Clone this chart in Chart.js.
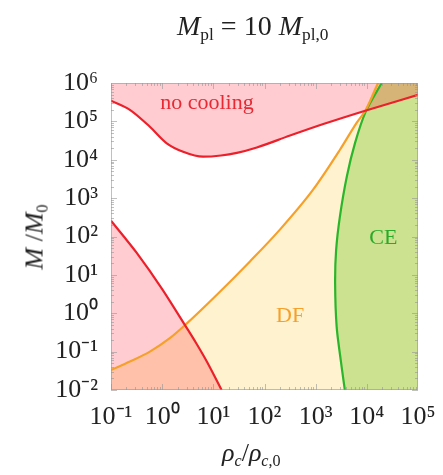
<!DOCTYPE html>
<html>
<head>
<meta charset="utf-8">
<script src="https://cdn.jsdelivr.net/npm/chart.js@4"></script>
<style>
  body { margin: 0; background: #fff; }
  #wrap { position: relative; width: 443px; height: 475px; font-family: "Liberation Serif", "Times New Roman", serif; color: #222; }
  #chart { position: absolute; left: 0; top: 0; }
  .lbl { position: absolute; white-space: nowrap; line-height: 1; }
  #title { left: 177px; top: 12px; font-size: 28px; }
  #xtitle { left: 222px; top: 440px; font-size: 26px; }
  #ytitle { left: 36px; top: 237px; font-size: 26px; transform: translate(-50%, -50%) rotate(-90deg); }
  sub { font-size: 0.62em; vertical-align: -0.3em; font-style: normal; }
</style>
</head>
<body>
<div id="wrap">
  <canvas id="chart" width="443" height="475"></canvas>
  <div class="lbl" id="title"><i>M</i><sub>pl</sub> = 10 <i>M</i><sub>pl,0</sub></div>
  <div class="lbl" id="ytitle"><i>M</i> /<i>M</i><sub>0</sub></div>
  <div class="lbl" id="xtitle"><i>ρ</i><sub><i>c</i></sub>/<i>ρ</i><sub><i>c</i>,0</sub></div>
</div>
<script>
// axis ranges and ticks
const xMin = 0.1, xMax = 1e5;
const yMin = 0.01, yMax = 1e6;
const xTicks = [0.1, 1, 10, 100, 1e3, 1e4, 1e5];
const yTicks = [0.01, 0.1, 1, 10, 100, 1e3, 1e4, 1e5, 1e6];

// "no cooling" boundary (upper red)
const noCoolX = [0.1, 0.234, 0.575, 1.23, 2.57, 6.31, 14.1, 28.8, 70.8, 316, 1413, 1.0e4, 1e5];
const noCoolY = [3.47e5, 2.0e5, 7.24e4, 2.69e4, 1.62e4, 1.20e4, 1.29e4, 1.51e4, 2.09e4, 4.27e4, 8.51e4, 1.95e5, 4.9e5];

// lower red boundary
const coolX = [0.1, 0.178, 0.316, 1.0, 2.79, 4.57, 7.41, 14.5];
const coolY = [257, 100, 38, 4.27, 0.49, 0.17, 0.056, 0.01];

// dynamical friction boundary (orange)
const dfX = [0.1, 0.234, 0.575, 1.41, 2.79, 11.6, 52.0, 200, 891, 2985, 6310, 9550, 16600];
const dfY = [0.0331, 0.055, 0.1, 0.224, 0.49, 2.99, 22.4, 151, 1660, 1.82e4, 9.12e4, 2.0e5, 1e6];

// common envelope boundary (green)
const ceX = [3715, 3090, 2570, 2400, 2512, 2985, 4074, 5888, 9550, 19500];
const ceY = [0.01, 0.06, 0.447, 6.03, 44.7, 339, 3715, 2.75e4, 1.82e5, 1e6];

const RED = 'rgb(236,32,42)';
const ORANGE = 'rgb(246,160,42)';
const GREEN = 'rgb(42,182,42)';

function pts(xs, ys) {
    return xs.map((x, i) => ({ x: x, y: ys[i] }));
}

const noCool = pts(noCoolX, noCoolY);
const cool = pts(coolX, coolY);
const df = pts(dfX, dfY);
const ce = pts(ceX, ceY);

// fill outlines, closed along the plot edges
const dfLast = df[df.length - 1];
const dfShape = df.concat([dfLast, { x: xMax, y: yMax }]);
const ceLast = ce[ce.length - 1];
const ceShape = ce.concat([ceLast, { x: xMax, y: yMax }, { x: xMax, y: yMin }]);

const sup = { '-': '⁻', '0': '⁰', '1': '¹', '2': '²', '3': '³', '4': '⁴', '5': '⁵', '6': '⁶', '7': '⁷', '8': '⁸', '9': '⁹' };
function powLabel(v) {
    const e = String(Math.round(Math.log10(v)));
    return '10' + e.split('').map(c => sup[c]).join('');
}

function line(data, color, mono) {
    const ds = { data: data, borderColor: color, borderWidth: 2.2, fill: false, order: 1 };
    if (mono) ds.cubicInterpolationMode = 'monotone';
    return ds;
}
function area(data, fill, color, order, mono) {
    const ds = { data: data, borderColor: 'transparent', borderWidth: 0, backgroundColor: color, fill: fill, order: order };
    if (mono) ds.cubicInterpolationMode = 'monotone';
    return ds;
}

const frameTicks = {
    id: 'frameTicks',
    afterDraw(chart) {
        const ctx = chart.ctx, a = chart.chartArea;
        const xs = chart.scales.x, ys = chart.scales.y;
        ctx.save();
        ctx.strokeStyle = 'rgba(150,150,150,0.6)';
        ctx.lineWidth = 1;
        ctx.strokeRect(a.left + 0.5, a.top + 0.5, a.right - a.left - 1, a.bottom - a.top - 1);
        ctx.beginPath();
        for (let e = -1; e < 5; e++) {
            for (let m = 1; m < 10; m++) {
                const p = Math.round(xs.getPixelForValue(m * Math.pow(10, e))) + 0.5;
                const len = m === 1 ? 6 : 3;
                ctx.moveTo(p, a.bottom); ctx.lineTo(p, a.bottom - len);
                ctx.moveTo(p, a.top); ctx.lineTo(p, a.top + len);
            }
        }
        for (let e = -2; e < 6; e++) {
            for (let m = 1; m < 10; m++) {
                const p = Math.round(ys.getPixelForValue(m * Math.pow(10, e))) + 0.5;
                const len = m === 1 ? 6 : 3;
                ctx.moveTo(a.left, p); ctx.lineTo(a.left + len, p);
                ctx.moveTo(a.right, p); ctx.lineTo(a.right - len, p);
            }
        }
        ctx.stroke();
        ctx.restore();
    }
};

const regionLabels = {
    id: 'regionLabels',
    afterDatasetsDraw(chart) {
        const ctx = chart.ctx;
        const xs = chart.scales.x, ys = chart.scales.y;
        const items = [
            { t: 'no cooling', x: 7.5, y: 3.0e5, c: 'rgb(232,40,50)' },
            { t: 'DF', x: 316, y: 0.85, c: 'rgb(246,160,42)' },
            { t: 'CE', x: 2.1e4, y: 91, c: 'rgb(42,170,42)' }
        ];
        ctx.save();
        ctx.font = '22px "Liberation Serif", "Times New Roman", serif';
        ctx.textAlign = 'center';
        ctx.textBaseline = 'middle';
        items.forEach(it => {
            ctx.fillStyle = it.c;
            ctx.fillText(it.t, xs.getPixelForValue(it.x), ys.getPixelForValue(it.y));
        });
        ctx.restore();
    }
};

const tickFont = { family: '"Liberation Serif", "Times New Roman", serif', size: 26 };

new Chart(document.getElementById('chart'), {
    type: 'scatter',
    data: {
        datasets: [
            line(noCool, RED, true),
            line(cool, RED, true),
            line(df, ORANGE, true),
            line(ce, GREEN, false),
            area(noCool, 'end', 'rgba(255,0,25,0.2)', 2, true),
            area(cool, 'start', 'rgba(255,0,25,0.2)', 2, true),
            area(ceShape, 'shape', 'rgba(110,195,30,0.35)', 3, false),
            area(dfShape, 'start', 'rgba(255,205,60,0.25)', 4, true)
        ]
    },
    options: {
        responsive: false,
        animation: false,
        showLine: true,
        elements: {
            point: { radius: 0, hoverRadius: 0 },
            line: { tension: 0.3 }
        },
        layout: { padding: { top: 83, right: 25, left: 0, bottom: 0 } },
        plugins: { legend: { display: false }, tooltip: { enabled: false } },
        scales: {
            x: {
                type: 'logarithmic',
                min: xMin, max: xMax,
                grid: { display: false },
                border: { display: false },
                afterBuildTicks: s => { s.ticks = xTicks.map(v => ({ value: v })); },
                afterFit: s => { s.height = 85; },
                ticks: { autoSkip: false, maxRotation: 0, padding: 4, color: '#222', font: tickFont, callback: v => powLabel(v) }
            },
            y: {
                type: 'logarithmic',
                min: yMin, max: yMax,
                grid: { display: false },
                border: { display: false },
                afterBuildTicks: s => { s.ticks = yTicks.map(v => ({ value: v })); },
                afterFit: s => { s.width = 111; },
                ticks: { autoSkip: false, padding: 5, color: '#222', font: tickFont, callback: v => powLabel(v) }
            }
        }
    },
    plugins: [frameTicks, regionLabels]
});
</script>
</body>
</html>
